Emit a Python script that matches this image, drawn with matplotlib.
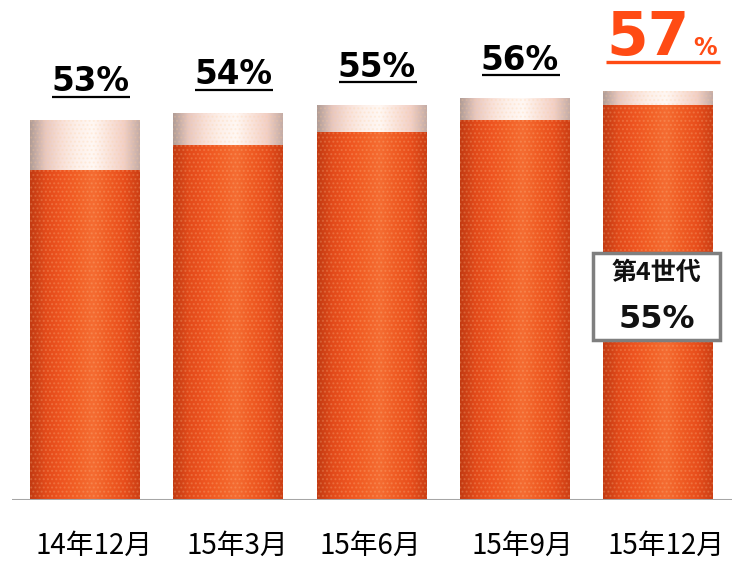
"""Barras de participacao: total vs 4a geracao (recriacao)."""
import matplotlib
matplotlib.use("Agg")
import matplotlib.pyplot as plt
import numpy as np
from matplotlib.colors import to_rgb
from matplotlib.patches import Rectangle

# dados
periodos = ["14年12月", "15年3月", "15年6月", "15年9月", "15年12月"]
total = [53, 54, 55, 56, 57]
quarta_geracao = [46, 49.5, 51.3, 53, 55]
rotulo_box = "第4世代"

LARANJA = "#FF4B14"
JP = ["Noto Sans CJK JP", "DejaVu Sans"]

W, H = 732, 564
AX_L, AX_B, AX_W, AX_H = 12, 64, 720, 480   # pixels
PX_X = 143.25        # pixels por unidade em x
YMAX = 66.9
u = YMAX / AX_H      # unidades y por pixel
ux = 1 / PX_X        # unidades x por pixel


def gradiente(cores, n=200):
    pos = np.linspace(0, 1, len(cores))
    rgb = np.array([to_rgb(c) for c in cores])
    t = np.linspace(0, 1, n)
    return np.stack([np.interp(t, pos, rgb[:, i]) for i in range(3)], axis=-1)[None, :, :]


grad_lar = gradiente(["#C23A12", "#E24A1A", "#EE5420", "#F26026", "#F56C32",
                      "#F05C24", "#E84E1C", "#CC3E14"])
grad_top = gradiente(["#B09C96", "#E8C8C0", "#F8E0D8", "#FDF0EA", "#FFF8F4",
                      "#FAE4DC", "#F2D0C6", "#C4ACA6"])

fig = plt.figure(figsize=(W / 100, H / 100), dpi=100)
ax = fig.add_axes([AX_L / W, AX_B / H, AX_W / W, AX_H / H])

x = np.arange(len(periodos))
larg = 110 / PX_X

for xi, t, g in zip(x, total, quarta_geracao):
    b1 = ax.bar(xi, g, width=larg, color="none", linewidth=0)[0]
    im = ax.imshow(grad_lar, extent=(xi - larg / 2, xi + larg / 2, 0, g),
                   aspect="auto", interpolation="bilinear", zorder=2)
    im.set_clip_path(b1)
    b2 = ax.bar(xi, t - g, bottom=g, width=larg, color="none", linewidth=0)[0]
    im2 = ax.imshow(grad_top, extent=(xi - larg / 2, xi + larg / 2, g, t),
                    aspect="auto", interpolation="bilinear", zorder=2)
    im2.set_clip_path(b2)
    # textura pontilhada
    ax.bar(xi, t, width=larg, color="none", edgecolor=(1, 0.8, 0.6, 0.22),
           hatch="....", linewidth=0, zorder=3)

# rotulos de valor
for xi, t in zip(x[:-1], total[:-1]):
    ax.text(xi + 5 * ux, t + 38 * u, f"{t}%", ha="center", va="center",
            fontsize=23.5, fontweight="bold", color="black",
            family="DejaVu Sans", zorder=5)
    ax.plot([xi - 33 * ux, xi + 45 * ux], [t + 23 * u] * 2, color="black",
            lw=1.6, solid_capstyle="butt", zorder=5)

xl, tl = x[-1], total[-1]
ax.text(xl - 52 * ux, tl + 36 * u, f"{tl}", ha="left", va="baseline",
        fontsize=43, fontweight="bold", color=LARANJA, family="DejaVu Sans", zorder=5)
ax.text(xl + 35 * ux, tl + 36 * u, "%", ha="left", va="baseline",
        fontsize=17, fontweight="bold", color=LARANJA, family="DejaVu Sans", zorder=5)
ax.plot([xl - 52 * ux, xl + 62 * ux], [tl + 29 * u] * 2, color=LARANJA,
        lw=2.4, solid_capstyle="butt", zorder=5)

# caixa 4a geracao
gl = quarta_geracao[-1]
bx0, bx1 = xl - 65 * ux, xl + 62 * ux
by0, by1 = 160 * u, 247 * u
ax.add_patch(Rectangle((bx0, by0), bx1 - bx0, by1 - by0, facecolor="white",
                       edgecolor="#7F7F7F", lw=2.5, zorder=6))
bxc = (bx0 + bx1) / 2
ax.text(bxc, 227 * u, rotulo_box, ha="center", va="center", fontsize=18,
        fontweight="bold", family=JP, color="#111111", zorder=7)
ax.text(bxc, 181 * u, f"{gl:.0f}%", ha="center", va="center", fontsize=23,
        fontweight="bold", family="DejaVu Sans", color="#111111", zorder=7)

# eixo
ax.axhline(0, color="#A6A6A6", lw=2.2, zorder=4)
desl = [9, 9, -1, 8, 8]
for xi, p, d in zip(x, periodos, desl):
    ax.text(xi + d * ux, -46 * u, p, ha="center", va="center", fontsize=20,
            family=JP, color="black", clip_on=False)

ax.set_xlim(-(85 - AX_L) / PX_X, (AX_L + AX_W - 85) / PX_X)
ax.set_ylim(0, YMAX)
ax.axis("off")

fig.savefig("out.png", dpi=100)
